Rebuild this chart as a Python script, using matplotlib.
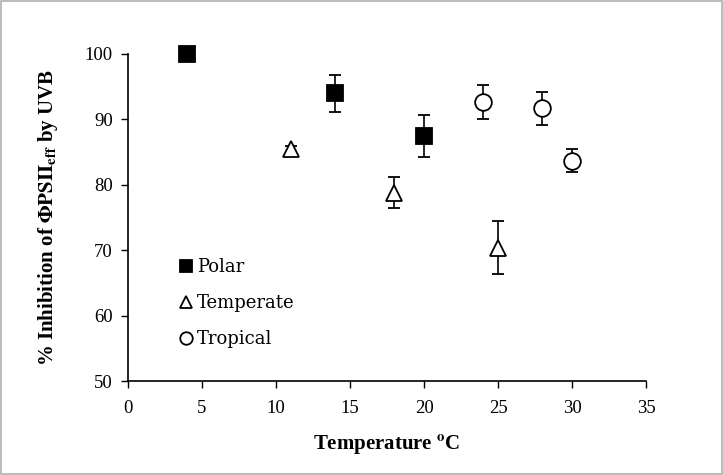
import matplotlib.pyplot as plt
from matplotlib.patches import Rectangle

plt.rcParams['font.family'] = ['Liberation Serif', 'DejaVu Serif']
plt.rcParams['mathtext.fontset'] = 'stix'

# datos
polar_t = [4, 14, 20]
polar_inh = [100, 94.0, 87.5]
polar_err = [0, 2.8, 3.2]

temperate_t = [11, 18, 25]
temperate_inh = [85.4, 78.8, 70.4]
temperate_err = [0.6, 2.4, 4.0]

tropical_t = [24, 28, 30]
tropical_inh = [92.6, 91.7, 83.7]
tropical_err = [2.6, 2.5, 1.7]

xticks = [0, 5, 10, 15, 20, 25, 30, 35]
yticks = [50, 60, 70, 80, 90, 100]

fig = plt.figure(figsize=(7.23, 4.75), dpi=100)
ax = fig.add_axes([128 / 723, 1 - 381 / 475, (646 - 128) / 723, (381 - 54) / 475])

estilo = dict(ls='none', ecolor='black', elinewidth=1.2, capsize=4, capthick=1.2,
              markersize=12, markeredgecolor='black', markeredgewidth=1.3, clip_on=False)
h1 = ax.errorbar(polar_t, polar_inh, yerr=polar_err, fmt='s', mfc='black', label='Polar', **estilo)
h2 = ax.errorbar(temperate_t, temperate_inh, yerr=temperate_err, fmt='^', mfc='white', label='Temperate', **estilo)
h3 = ax.errorbar(tropical_t, tropical_inh, yerr=tropical_err, fmt='o', mfc='white', label='Tropical', **estilo)

ax.set_xlim(0, 35)
ax.set_ylim(50, 100)
ax.set_xticks(xticks)
ax.set_yticks(yticks)
ax.tick_params(direction='out', length=5, width=1, labelsize=13.5)
ax.tick_params(axis='x', pad=9)
ax.tick_params(axis='y', pad=6)
for s in ['top', 'right']:
    ax.spines[s].set_visible(False)
for s in ['left', 'bottom']:
    ax.spines[s].set_linewidth(1.2)

ax.set_xlabel(r'Temperature $^{\mathbf{o}}$C', fontsize=15, fontweight='bold', labelpad=12)
ax.set_ylabel(r'% Inhibition of $\mathbf{\Phi PSII_{eff}}$ by UVB', fontsize=15, fontweight='bold', labelpad=18)

leg = ax.legend(handles=[h1[0], h2[0], h3[0]], labels=['Polar', 'Temperate', 'Tropical'],
                loc='lower left', bbox_to_anchor=(0.07, 0.05), frameon=False,
                fontsize=13, handlelength=0.6, handletextpad=0.3, labelspacing=1.0,
                markerscale=0.75)
for t in leg.get_texts():
    t.set_family(['DejaVu Serif'])

fig.patches.append(Rectangle((0.002, 0.002), 0.996, 0.996, transform=fig.transFigure,
                             fill=False, edgecolor='#b0b0b0', linewidth=1.2))

fig.savefig('out.png', dpi=100)
